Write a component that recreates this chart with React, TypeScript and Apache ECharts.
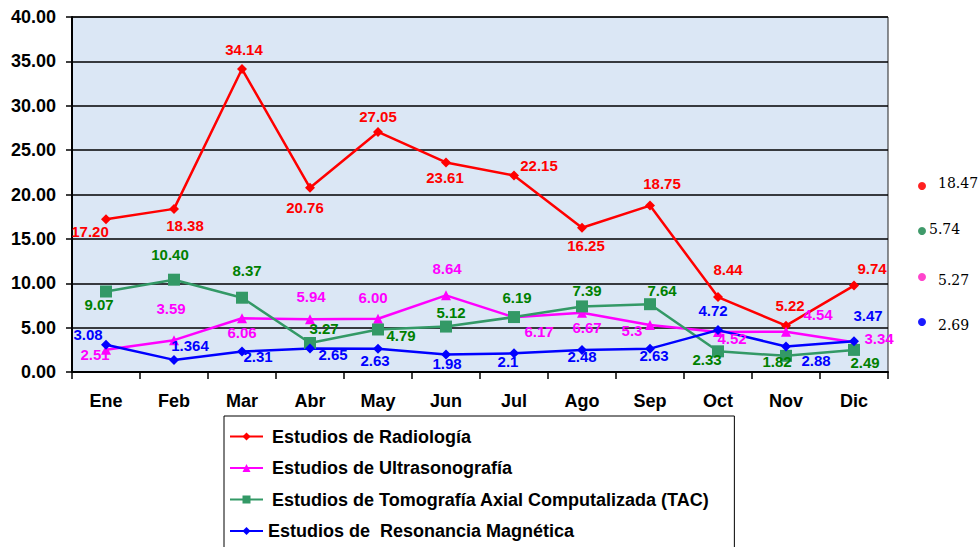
import React, { useEffect, useRef } from "react";
import * as echarts from "echarts";

const meses = ["Ene", "Feb", "Mar", "Abr", "May", "Jun", "Jul", "Ago", "Sep", "Oct", "Nov", "Dic"];

const radiologia = [17.2, 18.38, 34.14, 20.76, 27.05, 23.61, 22.15, 16.25, 18.75, 8.44, 5.22, 9.74];
const radiologiaTxt = ["17.20", "18.38", "34.14", "20.76", "27.05", "23.61", "22.15", "16.25", "18.75", "8.44", "5.22", "9.74"];

const ultrasonografia = [2.51, 3.59, 6.06, 5.94, 6.0, 8.64, 6.17, 6.67, 5.3, 4.52, 4.54, 3.34];
const ultrasonografiaTxt = ["2.51", "3.59", "6.06", "5.94", "6.00", "8.64", "6.17", "6.67", "5.3", "4.52", "4.54", "3.34"];

const tac = [9.07, 10.4, 8.37, 3.27, 4.79, 5.12, 6.19, 7.39, 7.64, 2.33, 1.82, 2.49];
const tacTxt = ["9.07", "10.40", "8.37", "3.27", "4.79", "5.12", "6.19", "7.39", "7.64", "2.33", "1.82", "2.49"];

const resonancia = [3.08, 1.364, 2.31, 2.65, 2.63, 1.98, 2.1, 2.48, 2.63, 4.72, 2.88, 3.47];
const resonanciaTxt = ["3.08", "1.364", "2.31", "2.65", "2.63", "1.98", "2.1", "2.48", "2.63", "4.72", "2.88", "3.47"];

const seriesNames = [
  "Estudios de Radiología",
  "Estudios de Ultrasonografía",
  "Estudios de Tomografía Axial Computalizada (TAC)",
  "Estudios de  Resonancia Magnética",
];

const promedios = ["18.47", "5.74", "5.27", "2.69"];

// label offsets relative to each point (style/position only)
const radOff = [[-16, 12], [11, 17], [2, -20], [-5, 20], [0, -15], [-1, 15], [25, -10], [4, 18], [12, -22], [10, -28], [4, -20], [18, -17]];
const ultOff = [[-11, 5], [-3, -32], [0, 14], [1, -23], [-5, -21], [1, -27], [25, 14], [5, 15], [-18, 6], [14, 7], [32, -17], [25, -4]];
const tacOff = [[-7, 13], [-4, -25], [5, -27], [14, -14], [23, 6], [5, -14], [3, -20], [5, -16], [12, -14], [-11, 8], [-9, 6], [11, 13]];
const resOff = [[-18, -10], [16, -14], [16, 5], [23, 6], [-3, 12], [1, 9], [-6, 8], [0, 7], [4, 7], [-5, -20], [30, 14], [14, -26]];

const FONT = "'Liberation Sans', Arial, sans-serif";

function makeSeries(
  name: string,
  values: number[],
  texts: string[],
  offs: number[][],
  lineColor: string,
  labelColor: string,
  symbol: string,
  symbolSize: number
) {
  return {
    name,
    type: "line",
    data: values.map((v, i) => ({
      value: v,
      label: { offset: offs[i], formatter: texts[i] },
    })),
    symbol,
    symbolSize,
    itemStyle: { color: lineColor },
    lineStyle: { color: lineColor, width: 2.5 },
    label: {
      show: true,
      position: "inside",
      color: labelColor,
      fontFamily: FONT,
      fontWeight: "bold",
      fontSize: 15,
    },
  };
}

export default function App() {
  const ref = useRef<HTMLDivElement>(null);
  useEffect(() => {
    if (!ref.current) return;
    const chart = echarts.init(ref.current, null, { renderer: "svg" });
    const dotColors = ["#ff2020", "#3f9a6a", "#ff44cc", "#1a1aff"];
    const dotY = [186, 231, 277, 322];
    const txtX = [938, 929, 938, 938];
    const txtY = [183, 229, 280, 325];
    const graphics: any[] = [];
    promedios.forEach((p, i) => {
      graphics.push({
        type: "circle",
        shape: { cx: 922, cy: dotY[i], r: 4 },
        style: { fill: dotColors[i] },
      });
      graphics.push({
        type: "text",
        x: txtX[i],
        y: txtY[i],
        style: {
          text: p,
          fill: "#000",
          font: "14px 'DejaVu Serif', 'Liberation Serif', serif",
          verticalAlign: "middle",
        },
      });
    });

    chart.setOption({
      animation: false,
      backgroundColor: "#ffffff",
      grid: {
        left: 72,
        top: 17,
        width: 816,
        height: 355,
        show: true,
        backgroundColor: "#dbe7f5",
        borderColor: "#222",
        borderWidth: 1,
      },
      xAxis: {
        type: "category",
        data: meses,
        boundaryGap: true,
        axisLine: { lineStyle: { color: "#000", width: 2 } },
        axisTick: { show: true, length: 7, lineStyle: { color: "#000", width: 1.5 } },
        axisLabel: {
          color: "#000",
          fontFamily: FONT,
          fontWeight: "bold",
          fontSize: 18,
          margin: 20,
        },
      },
      yAxis: {
        type: "value",
        min: 0,
        max: 40,
        interval: 5,
        axisLine: { show: true, lineStyle: { color: "#000", width: 2 } },
        axisTick: { show: true, length: 6, lineStyle: { color: "#000", width: 1.5 } },
        splitLine: { show: true, lineStyle: { color: "#000", width: 1.5 } },
        axisLabel: {
          color: "#000",
          fontFamily: FONT,
          fontWeight: "bold",
          fontSize: 18,
          margin: 16,
          formatter: (v: number) => v.toFixed(2),
        },
      },
      legend: {
        orient: "vertical",
        left: 224,
        top: 416,
        borderColor: "#000",
        borderWidth: 1,
        padding: [10, 25, 10, 5],
        itemWidth: 33,
        itemHeight: 10,
        itemGap: 10.5,
        textStyle: {
          color: "#000",
          fontFamily: FONT,
          fontWeight: "bold",
          fontSize: 18,
          lineHeight: 21,
        },
        data: seriesNames.map((n, i) => ({
          name: n,
          textStyle: { padding: [0, 0, 0, i < 3 ? 4 : 0] },
        })),
      },
      graphic: graphics,
      series: [
        makeSeries(seriesNames[0], radiologia, radiologiaTxt, radOff, "#ff0000", "#ff0000", "diamond", 10),
        makeSeries(seriesNames[1], ultrasonografia, ultrasonografiaTxt, ultOff, "#ff00ff", "#ff00ff", "triangle", 10),
        makeSeries(seriesNames[2], tac, tacTxt, tacOff, "#339966", "#008000", "rect", 12),
        makeSeries(seriesNames[3], resonancia, resonanciaTxt, resOff, "#0000ff", "#0000ff", "diamond", 10),
      ],
    });
    return () => chart.dispose();
  }, []);
  return (
    <div
      ref={ref}
      style={{ position: "fixed", left: 0, top: 0, width: 978, height: 575 }}
    />
  );
}
